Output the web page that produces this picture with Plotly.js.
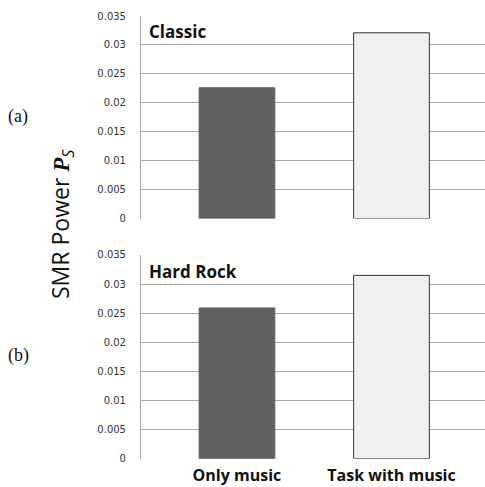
<!DOCTYPE html>
<html>
<head>
<meta charset="utf-8">
<script src="https://cdn.plot.ly/plotly-3.0.1.min.js"></script>
<style>html,body{margin:0;padding:0;background:#fff;}#chart{width:485px;height:487px;}</style>
</head>
<body>
<div id="chart"></div>
<script>
var categories = ["Only music", "Task with music"];
var classicValues = [0.0226, 0.0321];
var hardRockValues = [0.0259, 0.0315];
var panelNames = ["Classic", "Hard Rock"];
var panelLetters = ["(a)", "(b)"];
var yTicks = [0, 0.005, 0.01, 0.015, 0.02, 0.025, 0.03, 0.035];
var yTickText = ["0", "0.005", "0.01", "0.015", "0.02", "0.025", "0.03", "0.035"];

var barColors = ["#606060", "#f0f0f0"];
var barLines = ["#606060", "#333333"];

var traces = [
  {type: "bar", x: categories, y: classicValues, xaxis: "x", yaxis: "y",
   marker: {color: barColors, line: {color: barLines, width: 1}}, width: 0.49, hoverinfo: "none"},
  {type: "bar", x: categories, y: hardRockValues, xaxis: "x2", yaxis: "y2",
   marker: {color: barColors, line: {color: barLines, width: 1}}, width: 0.49, hoverinfo: "none"}
];

function yax(domain) {
  return {
    domain: domain, range: [0, 0.035], tickvals: yTicks, ticktext: yTickText,
    showgrid: true, gridcolor: "#a8a8a8", gridwidth: 1,
    showline: true, linecolor: "#a8a8a8", linewidth: 1,
    zeroline: false, ticks: "outside", ticklen: 12, tickcolor: "rgba(0,0,0,0)",
    tickfont: {family: "DejaVu Sans", size: 10, color: "#333"}, automargin: false, fixedrange: true
  };
}
function xax(anchor, showLabels) {
  return {
    domain: [0.2907, 1], range: [-0.621, 1.605], anchor: anchor,
    showgrid: false, showline: false, zeroline: false,
    showticklabels: showLabels, ticks: "outside", ticklen: 2, tickcolor: "rgba(0,0,0,0)",
    tickfont: {family: "Open Sans", size: 16, color: "#111", weight: "bold"},
    automargin: false, fixedrange: true
  };
}

var layout = {
  width: 485, height: 487,
  margin: {l: 0, r: 0, t: 0, b: 0},
  paper_bgcolor: "#fff", plot_bgcolor: "#fff",
  showlegend: false, bargap: 0,
  xaxis: xax("y", false),
  yaxis: yax([0.5513, 0.9671]),
  xaxis2: xax("y2", true),
  yaxis2: yax([0.0581, 0.4764]),
  annotations: [
    {text: "<b>" + panelNames[0] + "</b>", xref: "paper", yref: "paper", x: 0.3031, y: 1 - 31/487,
     xanchor: "left", yanchor: "middle", showarrow: false, font: {family: "Open Sans", size: 17, color: "#111"}},
    {text: "<b>" + panelNames[1] + "</b>", xref: "paper", yref: "paper", x: 0.3031, y: 1 - 271/487,
     xanchor: "left", yanchor: "middle", showarrow: false, font: {family: "Open Sans", size: 17, color: "#111"}},
    {text: panelLetters[0], xref: "paper", yref: "paper", x: 18/485, y: 1 - 117/487,
     xanchor: "center", yanchor: "middle", showarrow: false, font: {family: "Liberation Serif", size: 18, color: "#111"}},
    {text: panelLetters[1], xref: "paper", yref: "paper", x: 18/485, y: 1 - 355/487,
     xanchor: "center", yanchor: "middle", showarrow: false, font: {family: "Liberation Serif", size: 18, color: "#111"}},
    {text: "SMR Power <b><i style='font-family:Liberation Serif'>P</i></b><sub><i>S</i></sub>", xref: "paper", yref: "paper",
     x: 62/485, y: 1 - 224/487, xanchor: "center", yanchor: "middle", textangle: -90, showarrow: false,
     font: {family: "Open Sans", size: 23, color: "#111"}}
  ]
};

Plotly.newPlot("chart", traces, layout, {staticPlot: true, displayModeBar: false});
</script>
</body>
</html>
